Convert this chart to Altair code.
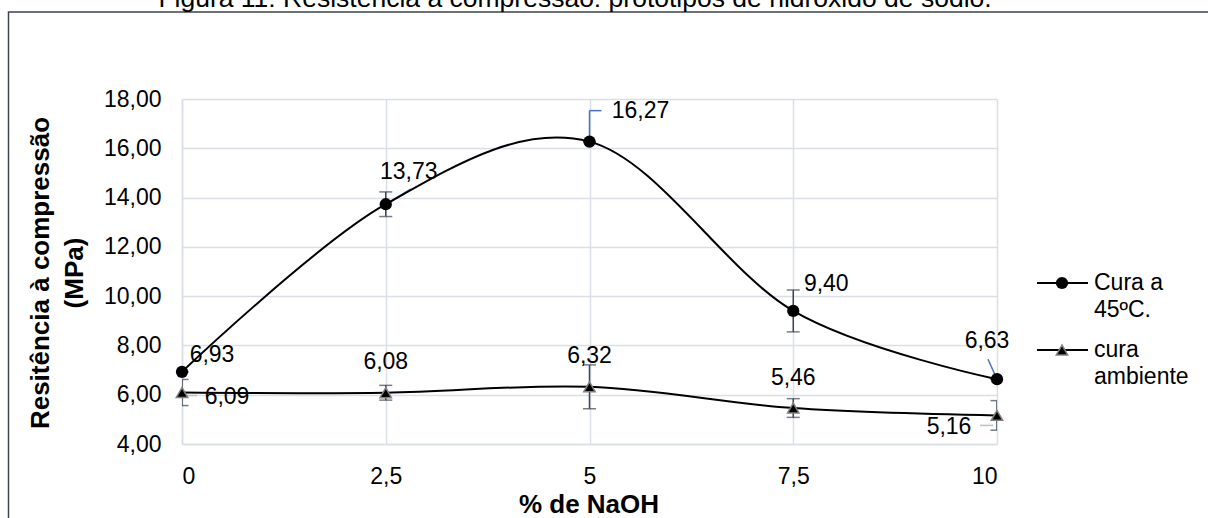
import altair as alt
import pandas as pd

# ---------------- data ----------------
X_VALUES = [0, 2.5, 5, 7.5, 10]
S1_NAME = "Cura a 45ºC."
S1_VALUES = [6.93, 13.73, 16.27, 9.40, 6.63]
S1_ERR = [0.0, 0.5, 0.0, 0.85, 0.0]
S2_NAME = "cura ambiente"
S2_VALUES = [6.09, 6.08, 6.32, 5.46, 5.16]
S2_ERR = [0.53, 0.3, 0.89, 0.38, 0.6]
Y_TICKS = [4, 6, 8, 10, 12, 14, 16, 18]
TITLE = "Figura 11: Resistência à compressão: protótipos de hidróxido de sódio."
X_TITLE = "% de NaOH"
Y_TITLE = "Resitência à compressão\n(MPa)"
LEGEND_TEXT = ["Cura a\n45ºC.", "cura\nambiente"]

rows = []
for sid, name, vals, errs in (("s1", S1_NAME, S1_VALUES, S1_ERR), ("s2", S2_NAME, S2_VALUES, S2_ERR)):
    for i, (x, v, e) in enumerate(zip(X_VALUES, vals, errs)):
        rows.append({"sid": sid, "series": name, "idx": i, "x": x, "y": v,
                     "lo": v - e, "hi": v + e, "label": f"{v:.2f}".replace(".", ",")})
df = pd.DataFrame(rows)

# ---------------- style / layout ----------------
FONT = "Liberation Sans"
W, H = 815, 345
GRID = "#d9dee7"
ERR_COLOR = "#3d4657"
BLUE = "#4472c4"
LGRAY = "#bfbfbf"

# label offsets (dx, dy) in px, baseline alphabetic
LABEL_OFF = {
    ("s1", 0): (30, -10), ("s1", 1): (23, -25), ("s1", 2): (51, -24),
    ("s1", 3): (33, -20), ("s1", 4): (-10, -31),
    ("s2", 0): (45, 12), ("s2", 1): (0, -24), ("s2", 2): (0, -24),
    ("s2", 3): (0, -23), ("s2", 4): (-48, 19),
}
# leader lines: (sid, idx, x1, y1, x2, y2, color)
LEADERS = [
    ("s1", 1, 0, 0, 25, -15, BLUE),
    ("s1", 2, 0, 0, 0, -31, BLUE),
    ("s1", 2, 0, -31, 12, -31, BLUE),
    ("s1", 4, 0, 0, -9, -20, BLUE),
    ("s2", 0, 5, 3, 15, 3, LGRAY),
    ("s2", 4, -17, 10, -4, 10, LGRAY),
]

xs = alt.Scale(domain=[0, 10], nice=False, zero=False)
ys = alt.Scale(domain=[4, 18], nice=False, zero=False)

x_axis = alt.Axis(values=X_VALUES, title=None, grid=True, gridColor=GRID, gridWidth=1.5,
                  domainColor=GRID, domainWidth=1.5, ticks=False, labelPadding=21,
                  labelFont=FONT, labelFontSize=23, labelColor="#000",
                  labelExpr="replace(toString(datum.value), '.', ',')")
y_axis = alt.Axis(values=Y_TICKS, title=None, grid=True, gridColor=GRID, gridWidth=1.5,
                  domainColor=GRID, domainWidth=1.5, ticks=False, labelPadding=21,
                  labelFont=FONT, labelFontSize=23, labelColor="#000",
                  labelExpr="replace(format(datum.value, '.2f'), '.', ',')")

base = alt.Chart(df)
X = alt.X("x:Q", scale=xs, axis=x_axis)
Y = alt.Y("y:Q", scale=ys, axis=y_axis)

one = pd.DataFrame({"k": [0]})

frame = alt.Chart(one).mark_rect(filled=False, stroke="#3c4352", strokeWidth=1.5).encode(
    x=alt.value(-173.5), x2=alt.value(1400), y=alt.value(-87), y2=alt.value(700))

title = alt.Chart(one).mark_text(text=TITLE, font=FONT, fontSize=26.5, align="center",
                                 baseline="alphabetic", color="#000").encode(
    x=alt.value(575 - 182), y=alt.value(7 - 99))

xtitle = alt.Chart(one).mark_text(text=X_TITLE, font=FONT, fontSize=26, fontWeight="bold",
                                  align="center", baseline="middle", color="#000").encode(
    x=alt.value(589 - 182), y=alt.value(505 - 99))

ytitle = alt.Chart(one).mark_text(text=Y_TITLE, lineBreak="\n", font=FONT, fontSize=26,
                                  fontWeight="bold", align="center", baseline="middle",
                                  angle=270, lineHeight=34, color="#000").encode(
    x=alt.value(41 - 182), y=alt.value(273 - 99))

err_rule = base.mark_rule(color=ERR_COLOR, strokeWidth=1.5, clip=True).encode(
    x=X, y=alt.Y("lo:Q", scale=ys, axis=y_axis), y2="hi:Q")
err_top = base.mark_tick(orient="horizontal", color=ERR_COLOR, size=13, thickness=1.5,
                         clip=True).encode(x=X, y=alt.Y("hi:Q", scale=ys, axis=y_axis))
err_bot = base.mark_tick(orient="horizontal", color=ERR_COLOR, size=13, thickness=1.5,
                         clip=True).encode(x=X, y=alt.Y("lo:Q", scale=ys, axis=y_axis))

leaders = []
for sid, i, x1, y1, x2, y2, col in LEADERS:
    leaders.append(
        base.transform_filter(f"datum.sid == '{sid}' && datum.idx == {i}")
        .mark_rule(color=col, strokeWidth=1.5, xOffset=x1, yOffset=y1, x2Offset=x2, y2Offset=y2)
        .encode(x=X, y=Y, x2="x:Q", y2="y:Q"))

lines = base.mark_line(interpolate="cardinal", color="#000", strokeWidth=2).encode(
    x=X, y=Y, detail="sid:N")

circles = base.transform_filter("datum.sid == 's1'").mark_point(
    shape="circle", filled=True, color="#000", size=150, opacity=1).encode(x=X, y=Y)
tris = base.transform_filter("datum.sid == 's2'").mark_point(
    shape="triangle-up", filled=True, fill="#000", stroke="#808080", strokeWidth=1.5,
    size=130, opacity=1).encode(x=X, y=Y)

labels = []
for (sid, i), (dx, dy) in LABEL_OFF.items():
    labels.append(
        base.transform_filter(f"datum.sid == '{sid}' && datum.idx == {i}")
        .mark_text(font=FONT, fontSize=23, color="#000", align="center",
                   baseline="alphabetic", dx=dx, dy=dy)
        .encode(x=X, y=Y, text="label:N"))

# legend (manual, to reproduce line+marker symbols)
legend = []
for k, (shape, ly) in enumerate((("circle", 184), ("triangle-up", 251))):
    legend.append(alt.Chart(one).mark_rule(color="#000", strokeWidth=2).encode(
        x=alt.value(855), x2=alt.value(906), y=alt.value(ly)))
    if shape == "circle":
        legend.append(alt.Chart(one).mark_point(shape="circle", filled=True, color="#000",
                                                size=150, opacity=1).encode(
            x=alt.value(880), y=alt.value(ly)))
    else:
        legend.append(alt.Chart(one).mark_point(shape="triangle-up", filled=True, fill="#000",
                                                stroke="#808080", strokeWidth=1.5, size=130,
                                                opacity=1).encode(
            x=alt.value(880), y=alt.value(ly)))
    legend.append(alt.Chart(one).mark_text(text=LEGEND_TEXT[k], lineBreak="\n", font=FONT,
                                           fontSize=23, align="left", baseline="alphabetic",
                                           lineHeight=27, color="#000").encode(
        x=alt.value(912), y=alt.value(ly + 7)))

chart = alt.layer(
    frame, title, xtitle, ytitle, err_rule, err_top, err_bot, *leaders, lines, circles, tris,
    *labels, *legend
).properties(
    width=W, height=H,
    autosize=alt.AutoSizeParams(type="none"),
    padding={"left": 182, "top": 99, "right": 211, "bottom": 74},
    background="white",
).configure_view(stroke=None)

chart.save("out.html", embed_options={"renderer": "svg", "actions": False})
